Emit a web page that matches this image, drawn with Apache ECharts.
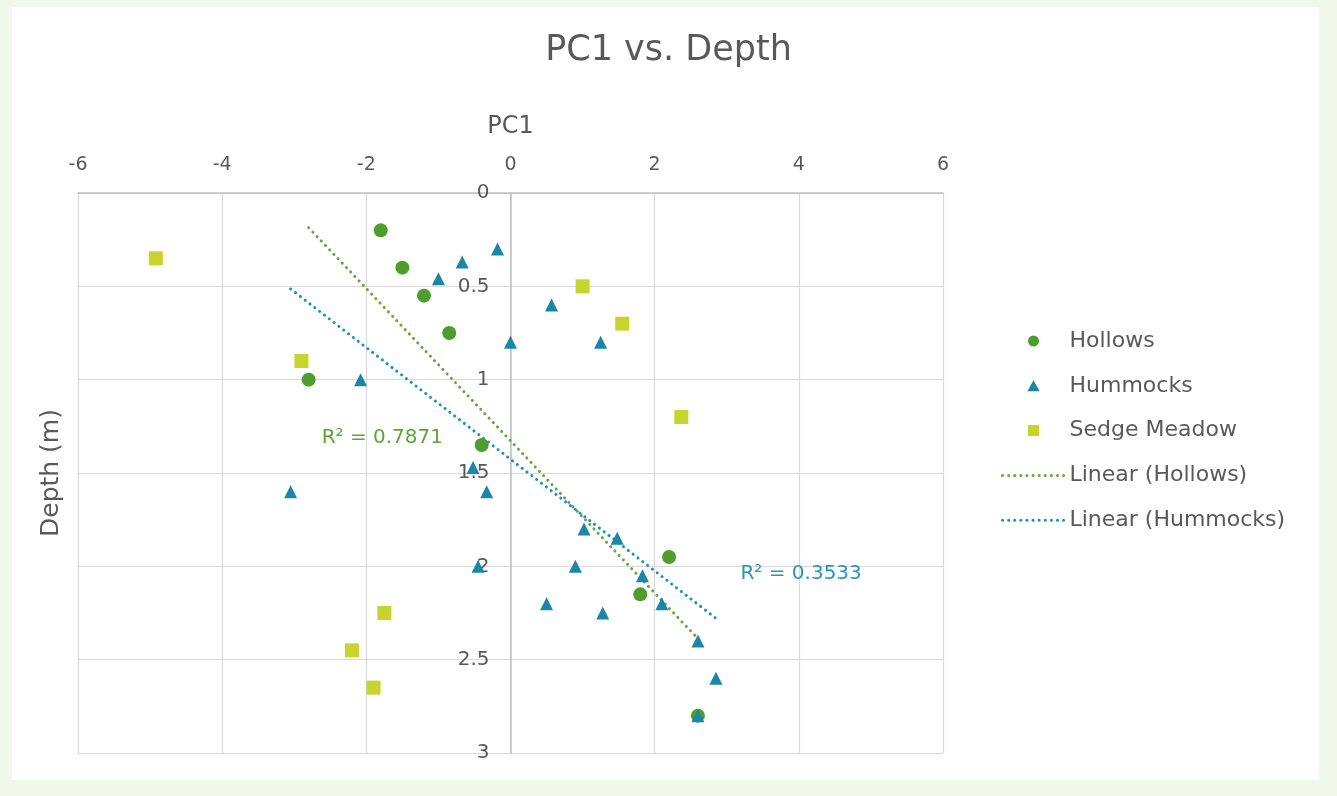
<!DOCTYPE html>
<html>
<head>
<meta charset="utf-8">
<script src="https://cdn.jsdelivr.net/npm/echarts@6/dist/echarts.min.js"></script>
<style>
  html, body { margin: 0; padding: 0; background: #f0f8ec; }
  #panel { position: absolute; left: 12px; top: 7px; width: 1307px; height: 773px; background: #ffffff; }
  #chart { position: absolute; left: 0; top: 0; width: 1337px; height: 796px; }
</style>
</head>
<body>
<div id="panel"></div>
<div id="chart"></div>
<script>
// ---- data (x = PC1, y = depth in m) ----
const hollowsPC1   = [-1.8, -1.5, -1.2, -0.85, -2.8, -0.4, 2.2, 1.8, 2.6];
const hollowsDepth = [0.2, 0.4, 0.55, 0.75, 1.0, 1.35, 1.95, 2.15, 2.8];

const hummocksPC1   = [-0.18, -0.67, -1.0, 0.57, 0.0, 1.25, -2.08, -0.52, -3.05, -0.33, 1.02, 1.48, -0.45, 0.9, 1.83, 0.5, 2.1, 1.28, 2.6, 2.85, 2.6];
const hummocksDepth = [0.3, 0.37, 0.46, 0.6, 0.8, 0.8, 1.0, 1.47, 1.6, 1.6, 1.8, 1.85, 2.0, 2.0, 2.05, 2.2, 2.2, 2.25, 2.4, 2.6, 2.8];

const sedgePC1   = [-4.92, -2.9, 1.0, 1.55, 2.37, -1.75, -2.2, -1.9];
const sedgeDepth = [0.35, 0.9, 0.5, 0.7, 1.2, 2.25, 2.45, 2.65];

const xTicks = [-6, -4, -2, 0, 2, 4, 6];
const yTicks = [0, 0.5, 1, 1.5, 2, 2.5, 3];

const r2Hollows = 'R² = 0.7871';
const r2Hummocks = 'R² = 0.3533';

// ---- helpers ----
function pairs(xs, ys) { return xs.map((x, i) => [x, ys[i]]); }
function fitLine(xs, ys) {
  const n = xs.length;
  const mx = xs.reduce((a, b) => a + b, 0) / n;
  const my = ys.reduce((a, b) => a + b, 0) / n;
  let sxy = 0, sxx = 0;
  for (let i = 0; i < n; i++) { sxy += (xs[i] - mx) * (ys[i] - my); sxx += (xs[i] - mx) * (xs[i] - mx); }
  const b = sxy / sxx, a = my - b * mx;
  const x0 = Math.min(...xs), x1 = Math.max(...xs);
  return [[x0, a + b * x0], [x1, a + b * x1]];
}

const FONT = 'DejaVu Sans';
const TXT = '#595959';
const GREEN = '#4d9e2d', BLUE = '#1a86a8', LIME = '#c6d42d';
const GREEN_TL = '#6aa647', BLUE_TL = '#1f8fbf';
const DOTS = [0.1, 6];

const GRID = { left: 78, top: 193, right: 394, bottom: 43 };
const gridW = 1337 - GRID.left - GRID.right;
const xMin = xTicks[0], xMax = xTicks[xTicks.length - 1];
const yAxisShift = -gridW * (0 - xMin) / (xMax - xMin); // put the depth axis at PC1 = 0

const chart = echarts.init(document.getElementById('chart'), null, { renderer: 'canvas' });
chart.setOption({
  backgroundColor: 'transparent',
  animation: false,
  textStyle: { fontFamily: FONT, color: TXT },
  title: {
    text: 'PC1 vs. Depth',
    left: 'center', top: 28,
    textStyle: { fontFamily: FONT, fontSize: 35, fontWeight: 'normal', color: TXT }
  },
  grid: Object.assign({ containLabel: false }, GRID),
  legend: {
    orient: 'vertical', left: 996, top: 325,
    itemWidth: 62, itemHeight: 11, itemGap: 22.8,
    symbolKeepAspect: true,
    textStyle: { fontFamily: FONT, fontSize: 22, color: TXT },
    data: [
      { name: 'Hollows', icon: 'circle' },
      { name: 'Hummocks', icon: 'path://M5,0 L10,9 L0,9 Z' },
      { name: 'Sedge Meadow', icon: 'path://M0,0 L10,0 L10,10 L0,10 Z' },
      { name: 'Linear (Hollows)', itemStyle: { opacity: 0, borderWidth: 0 },
        lineStyle: { width: 3, type: DOTS, cap: 'round' } },
      { name: 'Linear (Hummocks)', itemStyle: { opacity: 0, borderWidth: 0 },
        lineStyle: { width: 3, type: DOTS, cap: 'round' } }
    ]
  },
  xAxis: {
    type: 'value', position: 'top', min: xMin, max: xMax, interval: 2,
    name: 'PC1', nameLocation: 'middle', nameGap: 54,
    nameTextStyle: { fontFamily: FONT, fontSize: 24, color: TXT },
    axisLine: { show: true, onZero: false, lineStyle: { color: '#bfbfbf', width: 1.5 } },
    axisTick: { show: false },
    axisLabel: { fontFamily: FONT, fontSize: 19, color: TXT, margin: 18 },
    splitLine: { show: true, lineStyle: { color: '#d9d9d9', width: 1.2 } }
  },
  yAxis: [
    {
      type: 'value', inverse: true, min: yTicks[0], max: yTicks[yTicks.length - 1], interval: 0.5,
      position: 'left', offset: yAxisShift,
      axisLine: { show: true, onZero: false, lineStyle: { color: '#bfbfbf', width: 1.5 } },
      axisTick: { show: false },
      axisLabel: { fontFamily: FONT, fontSize: 20, color: TXT, margin: 21 },
      splitLine: { show: true, lineStyle: { color: '#d9d9d9', width: 1.2 } }
    },
    {
      type: 'value', inverse: true, min: yTicks[0], max: yTicks[yTicks.length - 1], interval: 0.5,
      position: 'left', offset: 0,
      name: 'Depth (m)', nameLocation: 'middle', nameGap: 14,
      nameTextStyle: { fontFamily: FONT, fontSize: 25, color: TXT },
      axisLine: { show: false, onZero: false },
      axisTick: { show: false },
      axisLabel: { show: false },
      splitLine: { show: false }
    }
  ],
  series: [
    {
      name: 'Hollows', type: 'scatter', symbol: 'circle', symbolSize: 14, z: 4,
      itemStyle: { color: GREEN, opacity: 1 },
      data: pairs(hollowsPC1, hollowsDepth)
    },
    {
      name: 'Hummocks', type: 'scatter', symbol: 'triangle', symbolSize: 13, z: 5,
      itemStyle: { color: BLUE, opacity: 1 },
      data: pairs(hummocksPC1, hummocksDepth)
    },
    {
      name: 'Sedge Meadow', type: 'scatter', symbol: 'rect', symbolSize: 14, z: 4,
      itemStyle: { color: LIME, opacity: 1 },
      data: pairs(sedgePC1, sedgeDepth)
    },
    {
      name: 'Linear (Hollows)', type: 'line', symbol: 'none', z: 3,
      color: GREEN_TL,
      lineStyle: { color: GREEN_TL, width: 3, type: DOTS, cap: 'round' },
      data: fitLine(hollowsPC1, hollowsDepth),
      markPoint: {
        symbolSize: 0,
        data: [{ coord: [-2.62, 1.31], value: 0 }],
        label: { show: true, position: 'right', distance: 0, formatter: r2Hollows,
                 fontFamily: FONT, fontSize: 20, color: '#5fa33a' }
      }
    },
    {
      name: 'Linear (Hummocks)', type: 'line', symbol: 'none', z: 3,
      color: BLUE_TL,
      lineStyle: { color: BLUE_TL, width: 3, type: DOTS, cap: 'round' },
      data: fitLine(hummocksPC1, hummocksDepth),
      markPoint: {
        symbolSize: 0,
        data: [{ coord: [3.19, 2.04], value: 0 }],
        label: { show: true, position: 'right', distance: 0, formatter: r2Hummocks,
                 fontFamily: FONT, fontSize: 20, color: '#2c94b8' }
      }
    }
  ]
});
</script>
</body>
</html>
